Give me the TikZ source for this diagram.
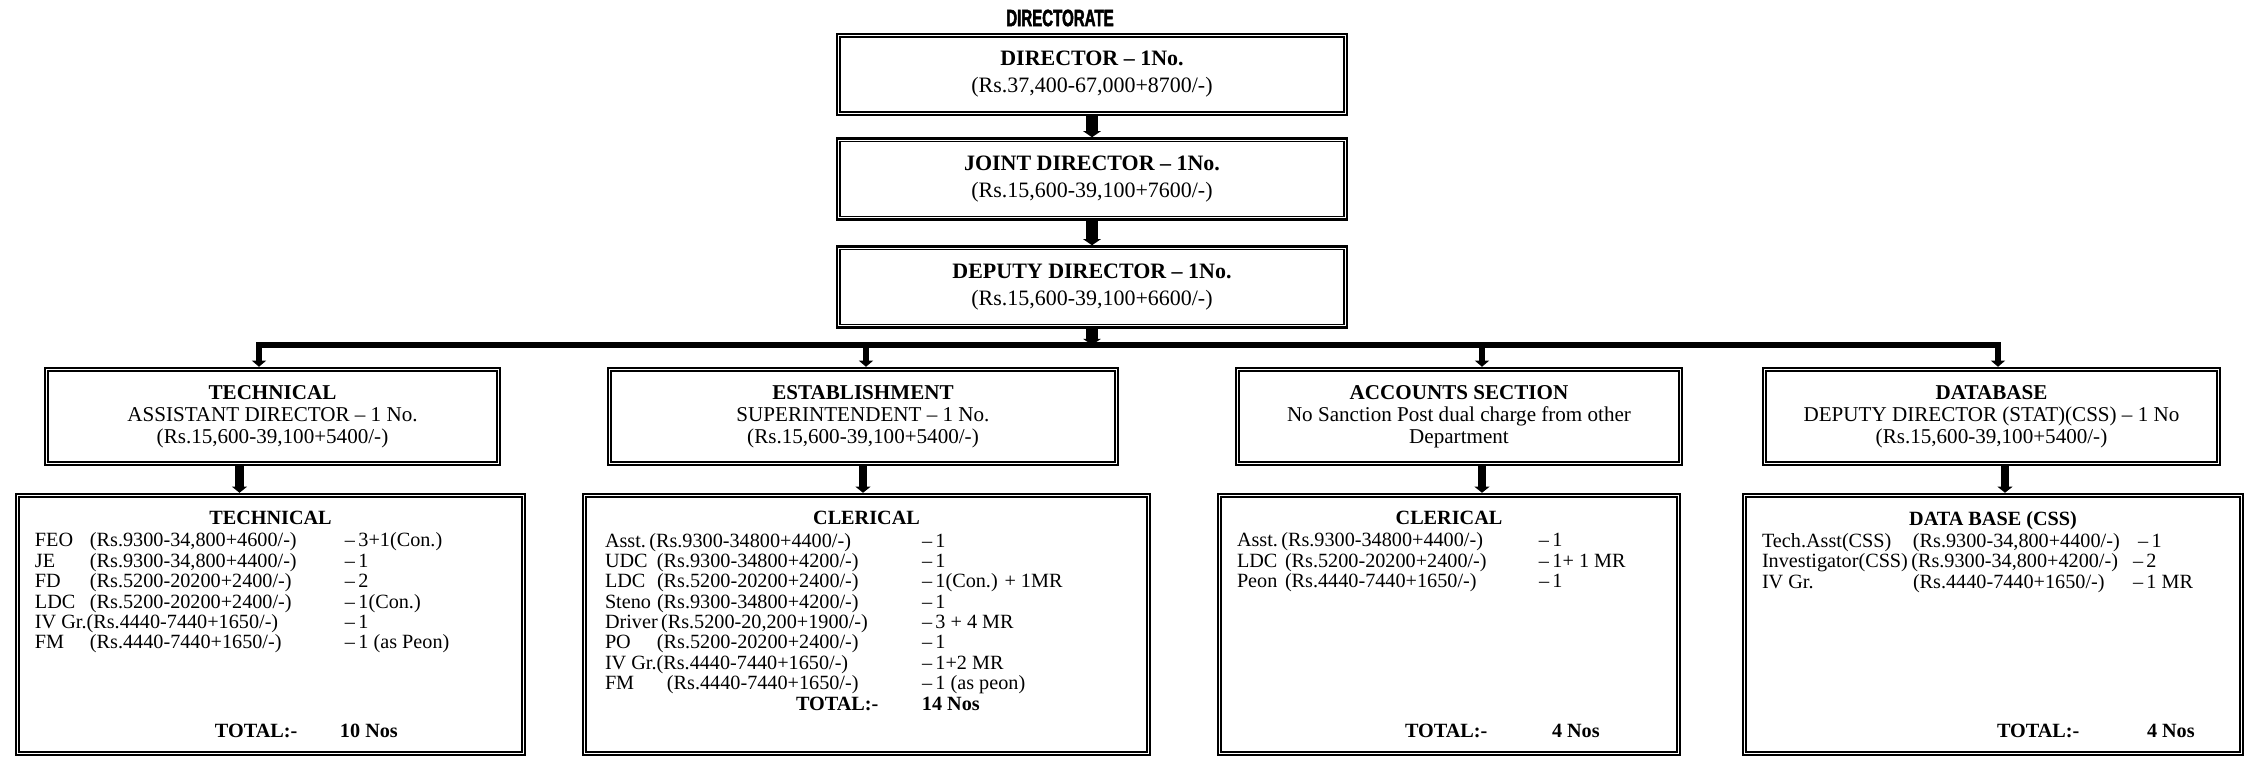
\documentclass[tikz,border=0pt]{standalone}
\usepackage{fontspec}
\setmainfont{Liberation Serif}
\newfontfamily\dirfont{Liberation Sans}[FakeStretch=0.64, FakeBold=2]
\usetikzlibrary{arrows.meta}

\newcommand{\unitfont}{\fontsize{11.5}{11.6}\selectfont\setlength{\topsep}{1pt}\setlength{\partopsep}{0pt}}

\tikzset{
  postbox/.style={draw, line width=1.4pt, inner sep=0pt},
  topbox/.style={postbox, align=center, minimum width=102mm, minimum height=16.2mm,
    font=\fontsize{12.5}{15.3}\selectfont},
  headbox/.style={postbox, align=center, minimum height=19.4mm,
    font=\fontsize{12}{12.6}\selectfont},
  unitbox/.style={postbox, minimum height=52.2mm, font=\unitfont},
  stem/.style={line width=6.5pt, -{Triangle[width=10pt,length=3.5pt]}},
  bus/.style={line width=3.6pt},
  drop/.style={line width=3.6pt, -{Triangle[width=8pt,length=3.5pt]}},
  unitstem/.style={line width=5pt, -{Triangle[width=8.5pt,length=3.5pt]}}
}

\begin{document}
\begin{tikzpicture}[x=0.2mm, y=-0.2mm]
\useasboundingbox (0,0) rectangle (2245,757);

\node[font={\dirfont\bfseries\fontsize{13.4}{15}\selectfont}] (dirlabel) at (1060,18) {DIRECTORATE};

\node[topbox] (dirbox) at (1092,74.5) {\textbf{DIRECTOR -- 1No.}\\(Rs.37,400-67,000+8700/-)};
\node[topbox] (jointbox) at (1092,179) {\textbf{JOINT DIRECTOR -- 1No.}\\(Rs.15,600-39,100+7600/-)};
\node[topbox] (depbox) at (1092,287) {\textbf{DEPUTY DIRECTOR -- 1No.}\\(Rs.15,600-39,100+6600/-)};

\node[headbox, minimum width=91mm] (techhead) at (272.5,416.5)
  {\textbf{TECHNICAL}\\ASSISTANT DIRECTOR -- 1 No.\\(Rs.15,600-39,100+5400/-)};
\node[headbox, minimum width=102mm] (estabhead) at (863,416.5)
  {\textbf{ESTABLISHMENT}\\SUPERINTENDENT -- 1 No.\\(Rs.15,600-39,100+5400/-)};
\node[headbox, minimum width=89.2mm] (acchead) at (1459,416.5)
  {\textbf{ACCOUNTS SECTION}\\No Sanction Post dual charge from other\\Department};
\node[headbox, minimum width=91.4mm] (dbhead) at (1991.5,416.5)
  {\textbf{DATABASE}\\DEPUTY DIRECTOR (STAT)(CSS) -- 1 No\\(Rs.15,600-39,100+5400/-)};

\node[unitbox, minimum width=101.8mm] (techunit) at (270.5,624.5) {%
\begin{minipage}[t][45.2mm][s]{94.2mm}
\centering\textbf{TECHNICAL}\par\raggedright
\begin{tabbing}
\hspace*{11mm}\=\hspace*{51mm}\=\kill
FEO\>(Rs.9300-34,800+4600/-)\>--\,3+1(Con.)\\
JE\>(Rs.9300-34,800+4400/-)\>--\,1\\
FD\>(Rs.5200-20200+2400/-)\>--\,2\\
LDC\>(Rs.5200-20200+2400/-)\>--\,1(Con.)\\
IV Gr.(Rs.4440-7440+1650/-)\>\>--\,1\\
FM\>(Rs.4440-7440+1650/-)\>--\,1 (as Peon)
\end{tabbing}
\vfill
\hspace*{36mm}\makebox[25mm][l]{\textbf{TOTAL:-}}\textbf{10 Nos}
\end{minipage}};

\node[unitbox, minimum width=113.4mm] (estabunit) at (866.5,624.5) {%
\begin{minipage}[t][45.2mm][s]{104.6mm}
\centering\textbf{CLERICAL}\par\raggedright
\begin{tabbing}
\hspace*{10.4mm}\=\hspace*{53mm}\=\kill
Asst.\,(Rs.9300-34800+4400/-)\>\>--\,1\\
UDC\>(Rs.9300-34800+4200/-)\>--\,1\\
LDC\>(Rs.5200-20200+2400/-)\>--\,1(Con.) + 1MR\\
Steno\>(Rs.9300-34800+4200/-)\>--\,1\\
Driver\,(Rs.5200-20,200+1900/-)\>\>--\,3 + 4 MR\\
PO\>(Rs.5200-20200+2400/-)\>--\,1\\
IV Gr.(Rs.4440-7440+1650/-)\>\>--\,1+2 MR\\
FM\>\hspace*{2mm}(Rs.4440-7440+1650/-)\>--\,1 (as peon)\\
\hspace*{38.2mm}\textbf{TOTAL:-}\>\>\textbf{14 Nos}
\end{tabbing}
\vfill
\end{minipage}};

\node[unitbox, minimum width=92.4mm] (accunit) at (1449,624.5) {%
\begin{minipage}[t][45.2mm][s]{84.8mm}
\centering\textbf{CLERICAL}\par\raggedright
\begin{tabbing}
\hspace*{9.6mm}\=\hspace*{50.8mm}\=\kill
Asst.\,(Rs.9300-34800+4400/-)\>\>--\,1\\
LDC\>(Rs.5200-20200+2400/-)\>--\,1+ 1 MR\\
Peon\>(Rs.4440-7440+1650/-)\>--\,1
\end{tabbing}
\vfill
\hspace*{33.6mm}\makebox[29.4mm][l]{\textbf{TOTAL:-}}\textbf{4 Nos}
\end{minipage}};

\node[unitbox, minimum width=100mm] (dbunit) at (1993,624.5) {%
\begin{minipage}[t][45.2mm][s]{92.4mm}
\centering\textbf{DATA BASE (CSS)}\par\raggedright
\begin{tabbing}
\hspace*{30.2mm}\=\hspace*{44mm}\=\kill
Tech.Asst(CSS)\>(Rs.9300-34,800+4400/-)\>\ --\,1\\
Investigator(CSS)\,(Rs.9300-34,800+4200/-)\>\>--\,2\\
IV Gr.\>(Rs.4440-7440+1650/-)\>--\,1 MR
\end{tabbing}
\vfill
\hspace*{47mm}\makebox[30mm][l]{\textbf{TOTAL:-}}\textbf{4 Nos}
\end{minipage}};

\foreach \n in {dirbox,jointbox,depbox,techhead,estabhead,acchead,dbhead,techunit,estabunit,accunit,dbunit}
  \draw[line width=0.7pt] ([shift={(2.4pt,-2.4pt)}]\n.north west) rectangle ([shift={(-2.4pt,2.4pt)}]\n.south east);

\coordinate (techdrop) at (259,345);
\coordinate (estabdrop) at (866,345);
\coordinate (accdrop) at (1482,345);
\coordinate (dbdrop) at (1998,345);

\draw[stem] (dirbox) -- (jointbox);
\draw[stem] (jointbox) -- (depbox);
\draw[stem] (depbox) -- (depbox |- techdrop);
\draw[bus, {Triangle[width=8pt,length=3.5pt]}-{Triangle[width=8pt,length=3.5pt]}]
  (techdrop |- techhead.north) -- (techdrop) -- (dbdrop) -- (dbdrop |- dbhead.north);
\draw[drop] (estabdrop) -- (estabdrop |- estabhead.north);
\draw[drop] (accdrop) -- (accdrop |- acchead.north);

\draw[unitstem] ([xshift=-6.6mm]techhead.south) -- ([xshift=-6.6mm]techhead.south |- techunit.north);
\draw[unitstem] (estabhead.south) -- (estabhead.south |- estabunit.north);
\draw[unitstem] ([xshift=4.6mm]acchead.south) -- ([xshift=4.6mm]acchead.south |- accunit.north);
\draw[unitstem] ([xshift=2.7mm]dbhead.south) -- ([xshift=2.7mm]dbhead.south |- dbunit.north);
\end{tikzpicture}
\end{document}
